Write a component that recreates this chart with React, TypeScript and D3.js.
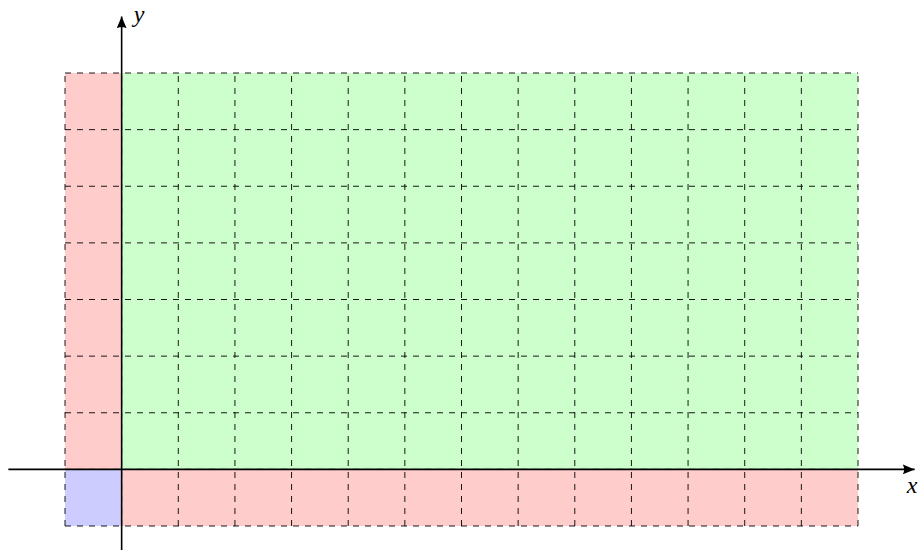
import React, { useRef, useEffect } from "react";
import * as d3 from "d3";

// grid extent in data units
const xDomain = [-1, 13];
const yDomain = [-1, 7];
// axis extent (with arrow tips at the end)
const xAxisExtent = [-2, 14];
const yAxisExtent = [-1.5, 8];
// shaded regions
const regionNames = ["firstQuadrant", "leftStrip", "bottomStrip", "corner"];
const regionX0 = [0, -1, 0, -1];
const regionX1 = [13, 0, 13, 0];
const regionY0 = [0, 0, -1, -1];
const regionY1 = [7, 7, 0, 0];
const axisLabels = ["x", "y"];

const regionColors: Record<string, string> = {
  firstQuadrant: "#ccffcc",
  leftStrip: "#ffcccc",
  bottomStrip: "#ffcccc",
  corner: "#ccccff",
};

const W = 919;
const H = 550;

const App = () => {
  const svgRef = useRef<SVGSVGElement>(null);

  useEffect(() => {
    const svg = d3.select(svgRef.current);
    svg.selectAll("*").remove();

    const x = d3.scaleLinear().domain(xDomain).range([65, 858]);
    const y = d3.scaleLinear().domain(yDomain).range([526, 73]);

    // arrow marker
    const defs = svg.append("defs");
    defs
      .append("marker")
      .attr("id", "tip")
      .attr("viewBox", "0 0 12 10")
      .attr("refX", 12)
      .attr("refY", 5)
      .attr("markerWidth", 12)
      .attr("markerHeight", 10)
      .attr("markerUnits", "userSpaceOnUse")
      .attr("orient", "auto")
      .append("path")
      .attr("d", "M0,0 Q3,5 0,10 L12,5 Z")
      .attr("fill", "#000");

    // colored regions
    svg
      .append("g")
      .selectAll("rect")
      .data(regionNames)
      .enter()
      .append("rect")
      .attr("x", (_, i) => x(regionX0[i]))
      .attr("y", (_, i) => y(regionY1[i]))
      .attr("width", (_, i) => x(regionX1[i]) - x(regionX0[i]))
      .attr("height", (_, i) => y(regionY0[i]) - y(regionY1[i]))
      .attr("fill", (d) => regionColors[d]);

    // dashed grid
    const grid = svg
      .append("g")
      .attr("stroke", "#000")
      .attr("stroke-width", 0.9)
      .attr("stroke-dasharray", "6,6")
      .attr("fill", "none");

    const xs = d3.range(xDomain[0], xDomain[1] + 1);
    const ys = d3.range(yDomain[0], yDomain[1] + 1);

    grid
      .selectAll("line.v")
      .data(xs)
      .enter()
      .append("line")
      .attr("class", "v")
      .attr("x1", (d) => x(d))
      .attr("x2", (d) => x(d))
      .attr("y1", y(yDomain[0]))
      .attr("y2", y(yDomain[1]));

    grid
      .selectAll("line.h")
      .data(ys)
      .enter()
      .append("line")
      .attr("class", "h")
      .attr("x1", x(xDomain[0]))
      .attr("x2", x(xDomain[1]))
      .attr("y1", (d) => y(d))
      .attr("y2", (d) => y(d));

    // axes
    const axes = svg.append("g").attr("stroke", "#000").attr("stroke-width", 1.6);
    axes
      .append("line")
      .attr("x1", x(xAxisExtent[0]))
      .attr("x2", x(xAxisExtent[1]))
      .attr("y1", y(0))
      .attr("y2", y(0))
      .attr("marker-end", "url(#tip)");
    axes
      .append("line")
      .attr("x1", x(0))
      .attr("x2", x(0))
      .attr("y1", y(yAxisExtent[0]))
      .attr("y2", y(yAxisExtent[1]))
      .attr("marker-end", "url(#tip)");

    // axis labels
    const lbl = svg
      .append("g")
      .attr("font-family", "'Liberation Serif', serif")
      .attr("font-style", "italic")
      .attr("font-size", 24);
    lbl
      .append("text")
      .attr("x", x(xAxisExtent[1]) - 8)
      .attr("y", y(0) + 24)
      .text(axisLabels[0]);
    lbl
      .append("text")
      .attr("x", x(0) + 12)
      .attr("y", y(yAxisExtent[1]) + 6)
      .text(axisLabels[1]);
  }, []);

  return (
    <svg
      ref={svgRef}
      width={W}
      height={H}
      style={{ position: "absolute", left: 0, top: 0, background: "#fff" }}
    />
  );
};

export default App;
